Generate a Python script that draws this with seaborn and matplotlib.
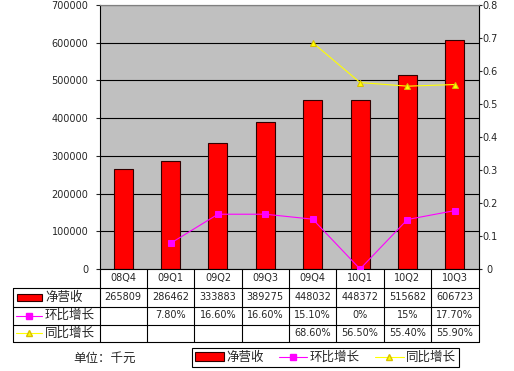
import numpy as np
import pandas as pd
import seaborn as sns
import matplotlib.pyplot as plt
from matplotlib.patches import Rectangle
from matplotlib.lines import Line2D

quarters = ['08Q4', '09Q1', '09Q2', '09Q3', '09Q4', '10Q1', '10Q2', '10Q3']
revenue = [265809, 286462, 333883, 389275, 448032, 448372, 515682, 606723]
qoq = [np.nan, 0.078, 0.166, 0.166, 0.151, 0.0, 0.15, 0.177]
yoy = [np.nan, np.nan, np.nan, np.nan, 0.686, 0.565, 0.554, 0.559]
qoq_labels = ['', '7.80%', '16.60%', '16.60%', '15.10%', '0%', '15%', '17.70%']
yoy_labels = ['', '', '', '', '68.60%', '56.50%', '55.40%', '55.90%']
series_names = ['净营收', '环比增长', '同比增长']
unit_text = '单位：千元'

sns.set_style('white')
plt.rcParams['font.family'] = ['DejaVu Sans', 'Noto Sans CJK SC']
cjk = ['Noto Sans CJK SC', 'DejaVu Sans']

RED, MAG, YEL = '#FF0000', '#FF00FF', '#FFFF00'
YEL_EDGE = '#D8C000'

W, H = 514, 371
L, R, T, B = 99.5, 478.5, 5, 269

fig = plt.figure(figsize=(W / 100, H / 100), dpi=100)
fig.patch.set_facecolor('white')
ax = fig.add_axes([L / W, 1 - B / H, (R - L) / W, (B - T) / H])
ax.set_facecolor('#C0C0C0')

df = pd.DataFrame({'q': quarters, 'rev': revenue, 'qoq': qoq, 'yoy': yoy,
                   'i': np.arange(len(quarters))})

sns.barplot(data=df, x='q', y='rev', ax=ax, color=RED, saturation=1,
            edgecolor='#300000', linewidth=0.8, width=0.4)
ax.set_xlim(-0.5, len(quarters) - 0.5)
ax.set_ylim(0, 700000)
ax.set_yticks(range(0, 700001, 100000))
ax.set_yticklabels([str(v) for v in range(0, 700001, 100000)])
ax.yaxis.grid(True, color='black', linewidth=0.8)
ax.set_axisbelow(True)
ax.set_xlabel('')
ax.set_ylabel('')
ax.set_xticklabels([])
ax.tick_params(axis='x', length=0)
ax.tick_params(axis='y', labelsize=7, length=3, pad=5, width=0.8)
for s in ['left', 'bottom']:
    ax.spines[s].set_color('black')
    ax.spines[s].set_linewidth(0.8)
for s in ['top', 'right']:
    ax.spines[s].set_color('#808080')
    ax.spines[s].set_linewidth(0.8)

ax2 = ax.twinx()
sns.lineplot(data=df, x='i', y='qoq', ax=ax2, color=MAG, linewidth=0.8,
             marker='s', markersize=4.5, markeredgecolor=MAG)
sns.lineplot(data=df, x='i', y='yoy', ax=ax2, color=YEL, linewidth=0.8,
             marker='^', markersize=5, markeredgecolor=YEL_EDGE)
ax2.set_ylim(0, 0.8)
ticks2 = np.arange(0, 0.81, 0.1)
ax2.set_yticks(ticks2)
ax2.set_yticklabels(['0' if t == 0 else f'{t:.1f}' for t in ticks2])
ax2.tick_params(axis='y', labelsize=7, length=2, pad=6, width=0.8)
for tk in ax2.yaxis.get_major_ticks():
    tk.label2.set_horizontalalignment('center')
ax2.set_xlabel('')
ax2.set_ylabel('')
ax2.spines['right'].set_color('black')
ax2.spines['right'].set_linewidth(0.8)
ax2.spines['top'].set_color('#808080')
for s in ['left', 'bottom']:
    ax2.spines[s].set_visible(False)

# data table below the plot
ov = fig.add_axes([0, 0, 1, 1])
ov.set_xlim(0, W)
ov.set_ylim(H, 0)
ov.axis('off')

tx0 = 12.5
rows_y = [269, 288, 306.5, 324.5, 342]
colw = (R - L) / len(quarters)
lk = dict(color='black', linewidth=0.8)
for k in range(len(quarters) + 1):
    ov.add_line(Line2D([L + k * colw] * 2, [rows_y[0], rows_y[-1]], **lk))
for y in rows_y[1:]:
    ov.add_line(Line2D([tx0, R], [y, y], **lk))
ov.add_line(Line2D([tx0, tx0], [rows_y[1], rows_y[-1]], **lk))

for k, q in enumerate(quarters):
    cx = L + (k + 0.5) * colw
    ov.text(cx, (rows_y[0] + rows_y[1]) / 2, q, ha='center', va='center', fontsize=7)
    ov.text(cx, (rows_y[1] + rows_y[2]) / 2, str(revenue[k]), ha='center', va='center', fontsize=7)
    ov.text(cx, (rows_y[2] + rows_y[3]) / 2, qoq_labels[k], ha='center', va='center', fontsize=7)
    ov.text(cx, (rows_y[3] + rows_y[4]) / 2, yoy_labels[k], ha='center', va='center', fontsize=7)

# row legend keys
yc = [(rows_y[i] + rows_y[i + 1]) / 2 for i in range(1, 4)]
ov.add_patch(Rectangle((16.5, yc[0] - 3.5), 25.5, 7, facecolor=RED, edgecolor='#300000', linewidth=0.8))
ov.add_line(Line2D([16, 29, 42], [yc[1]] * 3, color=MAG, linewidth=0.8,
                   marker='s', markersize=4.5, markevery=[1], markeredgecolor=MAG))
ov.add_line(Line2D([16, 29, 42], [yc[2]] * 3, color=YEL, linewidth=0.8,
                   marker='^', markersize=5, markevery=[1], markeredgecolor=YEL_EDGE))
for i, name in enumerate(series_names):
    ov.text(45, yc[i], name, ha='left', va='center', fontsize=9, family=cjk)

ov.text(105, 358, unit_text, ha='center', va='center', fontsize=9, family=cjk)

handles = [Rectangle((0, 0), 1, 1, facecolor=RED, edgecolor='#300000', linewidth=0.8),
           Line2D([], [], color=MAG, linewidth=0.8, marker='s', markersize=4.5, markeredgecolor=MAG),
           Line2D([], [], color=YEL, linewidth=0.8, marker='^', markersize=5, markeredgecolor=YEL_EDGE)]
leg = fig.legend(handles, series_names, loc='center', bbox_to_anchor=(325.5 / W, 1 - 357.5 / H),
                 ncol=3, frameon=True, fancybox=False, edgecolor='black', framealpha=1,
                 prop={'family': cjk, 'size': 9}, handlelength=2.3, handletextpad=0.2,
                 columnspacing=1.2, borderpad=0.25, borderaxespad=0)
leg.get_frame().set_linewidth(0.8)

fig.savefig('out.png', dpi=100)
